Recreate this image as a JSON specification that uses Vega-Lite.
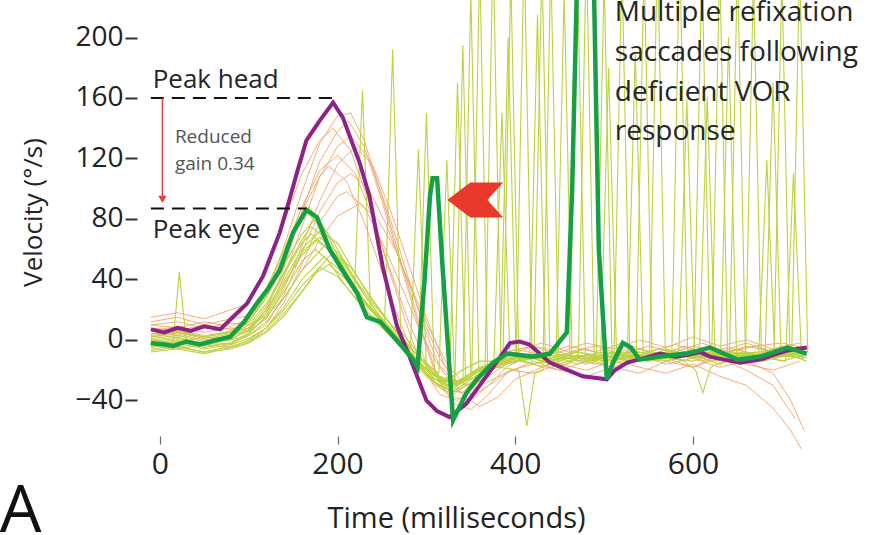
{
  "$schema": "https://vega.github.io/schema/vega-lite/v6.json",
  "autosize": {"type": "none"},
  "width": 695,
  "height": 436,
  "padding": {"left": 150, "top": 0, "right": 32, "bottom": 99},
  "background": "white",
  "config": {"view": {"stroke": null}, "font": "Open Sans"},
  "datasets": {
    "head_traces": [
      {"trace":"h1","t":-10,"v":10},{"trace":"h1","t":20,"v":8},{"trace":"h1","t":50,"v":12},{"trace":"h1","t":80,"v":9},{"trace":"h1","t":100,"v":14},{"trace":"h1","t":120,"v":30},{"trace":"h1","t":140,"v":62},{"trace":"h1","t":160,"v":98},{"trace":"h1","t":180,"v":130},{"trace":"h1","t":200,"v":148},{"trace":"h1","t":215,"v":150},{"trace":"h1","t":230,"v":132},{"trace":"h1","t":250,"v":95},{"trace":"h1","t":270,"v":55},{"trace":"h1","t":290,"v":15},{"trace":"h1","t":310,"v":-20},{"trace":"h1","t":330,"v":-38},{"trace":"h1","t":350,"v":-40},{"trace":"h1","t":370,"v":-30},{"trace":"h1","t":390,"v":-18},{"trace":"h1","t":410,"v":-12},{"trace":"h1","t":440,"v":-8},{"trace":"h1","t":470,"v":-14},{"trace":"h1","t":500,"v":-10},{"trace":"h1","t":530,"v":-6},{"trace":"h1","t":560,"v":-12},{"trace":"h1","t":590,"v":-4},{"trace":"h1","t":620,"v":-10},{"trace":"h1","t":650,"v":-6},{"trace":"h1","t":680,"v":-12},{"trace":"h1","t":710,"v":-8},{"trace":"h1","t":730,"v":-4},
      {"trace":"h2","t":-10,"v":4},{"trace":"h2","t":20,"v":6},{"trace":"h2","t":50,"v":3},{"trace":"h2","t":80,"v":5},{"trace":"h2","t":100,"v":8},{"trace":"h2","t":120,"v":18},{"trace":"h2","t":140,"v":42},{"trace":"h2","t":160,"v":75},{"trace":"h2","t":180,"v":108},{"trace":"h2","t":200,"v":128},{"trace":"h2","t":215,"v":135},{"trace":"h2","t":235,"v":120},{"trace":"h2","t":255,"v":88},{"trace":"h2","t":275,"v":50},{"trace":"h2","t":295,"v":12},{"trace":"h2","t":315,"v":-18},{"trace":"h2","t":335,"v":-34},{"trace":"h2","t":355,"v":-36},{"trace":"h2","t":375,"v":-28},{"trace":"h2","t":395,"v":-20},{"trace":"h2","t":420,"v":-16},{"trace":"h2","t":450,"v":-20},{"trace":"h2","t":480,"v":-14},{"trace":"h2","t":510,"v":-18},{"trace":"h2","t":540,"v":-10},{"trace":"h2","t":570,"v":-16},{"trace":"h2","t":600,"v":-12},{"trace":"h2","t":630,"v":-18},{"trace":"h2","t":660,"v":-14},{"trace":"h2","t":690,"v":-22},{"trace":"h2","t":710,"v":-40},{"trace":"h2","t":725,"v":-60},
      {"trace":"h3","t":-10,"v":12},{"trace":"h3","t":20,"v":15},{"trace":"h3","t":50,"v":10},{"trace":"h3","t":80,"v":14},{"trace":"h3","t":100,"v":16},{"trace":"h3","t":120,"v":30},{"trace":"h3","t":140,"v":58},{"trace":"h3","t":160,"v":88},{"trace":"h3","t":180,"v":112},{"trace":"h3","t":200,"v":122},{"trace":"h3","t":220,"v":110},{"trace":"h3","t":240,"v":80},{"trace":"h3","t":260,"v":45},{"trace":"h3","t":280,"v":12},{"trace":"h3","t":300,"v":-15},{"trace":"h3","t":320,"v":-32},{"trace":"h3","t":340,"v":-35},{"trace":"h3","t":360,"v":-25},{"trace":"h3","t":380,"v":-12},{"trace":"h3","t":400,"v":-6},{"trace":"h3","t":430,"v":-10},{"trace":"h3","t":460,"v":-4},{"trace":"h3","t":490,"v":-8},{"trace":"h3","t":520,"v":-2},{"trace":"h3","t":550,"v":-8},{"trace":"h3","t":580,"v":-3},{"trace":"h3","t":610,"v":-9},{"trace":"h3","t":640,"v":-5},{"trace":"h3","t":670,"v":-10},{"trace":"h3","t":700,"v":-4},{"trace":"h3","t":730,"v":-8},
      {"trace":"h4","t":-10,"v":0},{"trace":"h4","t":20,"v":-2},{"trace":"h4","t":50,"v":2},{"trace":"h4","t":80,"v":0},{"trace":"h4","t":100,"v":3},{"trace":"h4","t":120,"v":10},{"trace":"h4","t":140,"v":30},{"trace":"h4","t":160,"v":58},{"trace":"h4","t":180,"v":85},{"trace":"h4","t":200,"v":104},{"trace":"h4","t":215,"v":110},{"trace":"h4","t":235,"v":100},{"trace":"h4","t":255,"v":76},{"trace":"h4","t":275,"v":45},{"trace":"h4","t":295,"v":15},{"trace":"h4","t":315,"v":-12},{"trace":"h4","t":335,"v":-28},{"trace":"h4","t":355,"v":-32},{"trace":"h4","t":375,"v":-26},{"trace":"h4","t":395,"v":-20},{"trace":"h4","t":420,"v":-22},{"trace":"h4","t":450,"v":-16},{"trace":"h4","t":480,"v":-20},{"trace":"h4","t":510,"v":-14},{"trace":"h4","t":540,"v":-18},{"trace":"h4","t":570,"v":-22},{"trace":"h4","t":600,"v":-16},{"trace":"h4","t":630,"v":-24},{"trace":"h4","t":660,"v":-30},{"trace":"h4","t":690,"v":-45},{"trace":"h4","t":710,"v":-60},{"trace":"h4","t":722,"v":-72},
      {"trace":"h5","t":-10,"v":15},{"trace":"h5","t":20,"v":18},{"trace":"h5","t":50,"v":14},{"trace":"h5","t":80,"v":20},{"trace":"h5","t":100,"v":24},{"trace":"h5","t":120,"v":45},{"trace":"h5","t":140,"v":78},{"trace":"h5","t":160,"v":110},{"trace":"h5","t":180,"v":132},{"trace":"h5","t":195,"v":140},{"trace":"h5","t":215,"v":125},{"trace":"h5","t":235,"v":92},{"trace":"h5","t":255,"v":52},{"trace":"h5","t":275,"v":15},{"trace":"h5","t":295,"v":-18},{"trace":"h5","t":315,"v":-36},{"trace":"h5","t":335,"v":-40},{"trace":"h5","t":355,"v":-30},{"trace":"h5","t":375,"v":-18},{"trace":"h5","t":395,"v":-10},{"trace":"h5","t":420,"v":-4},{"trace":"h5","t":450,"v":-8},{"trace":"h5","t":480,"v":-2},{"trace":"h5","t":510,"v":-6},{"trace":"h5","t":540,"v":0},{"trace":"h5","t":570,"v":-5},{"trace":"h5","t":600,"v":2},{"trace":"h5","t":630,"v":-4},{"trace":"h5","t":660,"v":0},{"trace":"h5","t":690,"v":-6},{"trace":"h5","t":720,"v":-2},
      {"trace":"h6","t":-10,"v":-4},{"trace":"h6","t":20,"v":-6},{"trace":"h6","t":50,"v":-3},{"trace":"h6","t":80,"v":-5},{"trace":"h6","t":100,"v":-2},{"trace":"h6","t":120,"v":8},{"trace":"h6","t":140,"v":25},{"trace":"h6","t":160,"v":50},{"trace":"h6","t":180,"v":78},{"trace":"h6","t":200,"v":95},{"trace":"h6","t":210,"v":98},{"trace":"h6","t":230,"v":88},{"trace":"h6","t":250,"v":65},{"trace":"h6","t":270,"v":38},{"trace":"h6","t":290,"v":10},{"trace":"h6","t":310,"v":-14},{"trace":"h6","t":330,"v":-26},{"trace":"h6","t":350,"v":-30},{"trace":"h6","t":370,"v":-24},{"trace":"h6","t":390,"v":-16},{"trace":"h6","t":420,"v":-12},{"trace":"h6","t":450,"v":-18},{"trace":"h6","t":480,"v":-10},{"trace":"h6","t":510,"v":-14},{"trace":"h6","t":540,"v":-8},{"trace":"h6","t":570,"v":-12},{"trace":"h6","t":600,"v":-18},{"trace":"h6","t":630,"v":-10},{"trace":"h6","t":660,"v":-16},{"trace":"h6","t":690,"v":-20},{"trace":"h6","t":720,"v":-14},
      {"trace":"h7","t":-10,"v":6},{"trace":"h7","t":20,"v":9},{"trace":"h7","t":50,"v":5},{"trace":"h7","t":80,"v":8},{"trace":"h7","t":100,"v":6},{"trace":"h7","t":120,"v":14},{"trace":"h7","t":140,"v":34},{"trace":"h7","t":160,"v":62},{"trace":"h7","t":180,"v":92},{"trace":"h7","t":200,"v":116},{"trace":"h7","t":220,"v":128},{"trace":"h7","t":240,"v":115},{"trace":"h7","t":260,"v":85},{"trace":"h7","t":280,"v":50},{"trace":"h7","t":300,"v":15},{"trace":"h7","t":320,"v":-16},{"trace":"h7","t":340,"v":-36},{"trace":"h7","t":360,"v":-44},{"trace":"h7","t":380,"v":-38},{"trace":"h7","t":400,"v":-26},{"trace":"h7","t":430,"v":-18},{"trace":"h7","t":460,"v":-12},{"trace":"h7","t":490,"v":-16},{"trace":"h7","t":520,"v":-10},{"trace":"h7","t":550,"v":-14},{"trace":"h7","t":580,"v":-8},{"trace":"h7","t":610,"v":-14},{"trace":"h7","t":640,"v":-8},{"trace":"h7","t":670,"v":-4},{"trace":"h7","t":700,"v":-10},{"trace":"h7","t":728,"v":-6},
      {"trace":"h8","t":-10,"v":8},{"trace":"h8","t":20,"v":6},{"trace":"h8","t":50,"v":10},{"trace":"h8","t":80,"v":7},{"trace":"h8","t":100,"v":12},{"trace":"h8","t":120,"v":28},{"trace":"h8","t":140,"v":55},{"trace":"h8","t":160,"v":85},{"trace":"h8","t":180,"v":108},{"trace":"h8","t":190,"v":115},{"trace":"h8","t":210,"v":105},{"trace":"h8","t":230,"v":78},{"trace":"h8","t":250,"v":45},{"trace":"h8","t":270,"v":12},{"trace":"h8","t":290,"v":-15},{"trace":"h8","t":310,"v":-30},{"trace":"h8","t":330,"v":-36},{"trace":"h8","t":350,"v":-28},{"trace":"h8","t":370,"v":-16},{"trace":"h8","t":390,"v":-8},{"trace":"h8","t":420,"v":-4},{"trace":"h8","t":450,"v":-10},{"trace":"h8","t":480,"v":-6},{"trace":"h8","t":510,"v":-12},{"trace":"h8","t":540,"v":-6},{"trace":"h8","t":570,"v":-10},{"trace":"h8","t":600,"v":-4},{"trace":"h8","t":630,"v":-8},{"trace":"h8","t":660,"v":-2},{"trace":"h8","t":690,"v":-8},{"trace":"h8","t":720,"v":-12},
      {"trace":"h9","t":-10,"v":2},{"trace":"h9","t":20,"v":4},{"trace":"h9","t":50,"v":0},{"trace":"h9","t":80,"v":3},{"trace":"h9","t":100,"v":6},{"trace":"h9","t":120,"v":20},{"trace":"h9","t":140,"v":48},{"trace":"h9","t":160,"v":85},{"trace":"h9","t":180,"v":118},{"trace":"h9","t":200,"v":138},{"trace":"h9","t":212,"v":145},{"trace":"h9","t":230,"v":128},{"trace":"h9","t":250,"v":92},{"trace":"h9","t":270,"v":52},{"trace":"h9","t":290,"v":12},{"trace":"h9","t":310,"v":-22},{"trace":"h9","t":330,"v":-42},{"trace":"h9","t":350,"v":-46},{"trace":"h9","t":370,"v":-36},{"trace":"h9","t":390,"v":-22},{"trace":"h9","t":420,"v":-14},{"trace":"h9","t":450,"v":-20},{"trace":"h9","t":480,"v":-24},{"trace":"h9","t":510,"v":-18},{"trace":"h9","t":540,"v":-22},{"trace":"h9","t":570,"v":-14},{"trace":"h9","t":600,"v":-18},{"trace":"h9","t":630,"v":-12},{"trace":"h9","t":660,"v":-20},{"trace":"h9","t":690,"v":-30},{"trace":"h9","t":715,"v":-52},
      {"trace":"h10","t":-10,"v":10},{"trace":"h10","t":20,"v":12},{"trace":"h10","t":50,"v":8},{"trace":"h10","t":80,"v":11},{"trace":"h10","t":100,"v":10},{"trace":"h10","t":120,"v":16},{"trace":"h10","t":140,"v":28},{"trace":"h10","t":160,"v":46},{"trace":"h10","t":180,"v":66},{"trace":"h10","t":200,"v":82},{"trace":"h10","t":225,"v":90},{"trace":"h10","t":245,"v":80},{"trace":"h10","t":265,"v":60},{"trace":"h10","t":285,"v":32},{"trace":"h10","t":305,"v":5},{"trace":"h10","t":325,"v":-18},{"trace":"h10","t":345,"v":-30},{"trace":"h10","t":365,"v":-26},{"trace":"h10","t":385,"v":-14},{"trace":"h10","t":405,"v":-6},{"trace":"h10","t":430,"v":-2},{"trace":"h10","t":460,"v":-8},{"trace":"h10","t":490,"v":-4},{"trace":"h10","t":520,"v":-10},{"trace":"h10","t":550,"v":-4},{"trace":"h10","t":580,"v":-8},{"trace":"h10","t":610,"v":-2},{"trace":"h10","t":640,"v":-8},{"trace":"h10","t":670,"v":-4},{"trace":"h10","t":700,"v":-2},{"trace":"h10","t":730,"v":-6}
    ],
    "eye_traces": [
      {"trace":"e1","t":-10,"v":-5},{"trace":"e1","t":10,"v":-3},{"trace":"e1","t":15,"v":-1},{"trace":"e1","t":22,"v":45},{"trace":"e1","t":30,"v":-2},{"trace":"e1","t":50,"v":-4},{"trace":"e1","t":80,"v":-2},{"trace":"e1","t":100,"v":5},{"trace":"e1","t":120,"v":15},{"trace":"e1","t":140,"v":32},{"trace":"e1","t":160,"v":52},{"trace":"e1","t":175,"v":60},{"trace":"e1","t":190,"v":52},{"trace":"e1","t":210,"v":35},{"trace":"e1","t":230,"v":20},{"trace":"e1","t":250,"v":10},{"trace":"e1","t":270,"v":0},{"trace":"e1","t":290,"v":-15},{"trace":"e1","t":305,"v":-25},{"trace":"e1","t":320,"v":-28},{"trace":"e1","t":340,"v":-20},{"trace":"e1","t":360,"v":-14},{"trace":"e1","t":376,"v":-14},{"trace":"e1","t":385,"v":150},{"trace":"e1","t":394,"v":-12},{"trace":"e1","t":420,"v":-12},{"trace":"e1","t":450,"v":-8},{"trace":"e1","t":480,"v":-14},{"trace":"e1","t":510,"v":-10},{"trace":"e1","t":540,"v":-6},{"trace":"e1","t":570,"v":-12},{"trace":"e1","t":600,"v":-8},{"trace":"e1","t":630,"v":-10},{"trace":"e1","t":660,"v":-4},{"trace":"e1","t":690,"v":-8},{"trace":"e1","t":720,"v":-10},
      {"trace":"e2","t":-10,"v":0},{"trace":"e2","t":20,"v":2},{"trace":"e2","t":50,"v":-3},{"trace":"e2","t":80,"v":3},{"trace":"e2","t":100,"v":10},{"trace":"e2","t":120,"v":24},{"trace":"e2","t":140,"v":45},{"trace":"e2","t":160,"v":66},{"trace":"e2","t":170,"v":75},{"trace":"e2","t":185,"v":68},{"trace":"e2","t":200,"v":50},{"trace":"e2","t":219,"v":32},{"trace":"e2","t":228,"v":165},{"trace":"e2","t":237,"v":22},{"trace":"e2","t":260,"v":6},{"trace":"e2","t":280,"v":-10},{"trace":"e2","t":300,"v":-24},{"trace":"e2","t":320,"v":-32},{"trace":"e2","t":340,"v":-26},{"trace":"e2","t":360,"v":-18},{"trace":"e2","t":390,"v":-12},{"trace":"e2","t":420,"v":-16},{"trace":"e2","t":461,"v":-10},{"trace":"e2","t":470,"v":240},{"trace":"e2","t":479,"v":-12},{"trace":"e2","t":510,"v":-8},{"trace":"e2","t":540,"v":-14},{"trace":"e2","t":570,"v":-6},{"trace":"e2","t":600,"v":-12},{"trace":"e2","t":630,"v":-8},{"trace":"e2","t":660,"v":-14},{"trace":"e2","t":690,"v":-6},{"trace":"e2","t":720,"v":-12},
      {"trace":"e3","t":-10,"v":-8},{"trace":"e3","t":20,"v":-6},{"trace":"e3","t":50,"v":-9},{"trace":"e3","t":80,"v":-5},{"trace":"e3","t":100,"v":0},{"trace":"e3","t":120,"v":8},{"trace":"e3","t":140,"v":22},{"trace":"e3","t":160,"v":40},{"trace":"e3","t":185,"v":55},{"trace":"e3","t":205,"v":45},{"trace":"e3","t":225,"v":28},{"trace":"e3","t":253,"v":12},{"trace":"e3","t":262,"v":192},{"trace":"e3","t":271,"v":6},{"trace":"e3","t":295,"v":-12},{"trace":"e3","t":315,"v":-24},{"trace":"e3","t":335,"v":-28},{"trace":"e3","t":355,"v":-20},{"trace":"e3","t":380,"v":-14},{"trace":"e3","t":410,"v":-10},{"trace":"e3","t":440,"v":-14},{"trace":"e3","t":470,"v":-8},{"trace":"e3","t":511,"v":-12},{"trace":"e3","t":520,"v":250},{"trace":"e3","t":529,"v":-14},{"trace":"e3","t":560,"v":-10},{"trace":"e3","t":590,"v":-14},{"trace":"e3","t":603,"v":-20},{"trace":"e3","t":611,"v":-35},{"trace":"e3","t":620,"v":-18},{"trace":"e3","t":650,"v":-10},{"trace":"e3","t":680,"v":-14},{"trace":"e3","t":710,"v":-8},{"trace":"e3","t":725,"v":-12},
      {"trace":"e4","t":-10,"v":2},{"trace":"e4","t":20,"v":5},{"trace":"e4","t":50,"v":1},{"trace":"e4","t":80,"v":4},{"trace":"e4","t":100,"v":12},{"trace":"e4","t":120,"v":30},{"trace":"e4","t":140,"v":55},{"trace":"e4","t":155,"v":76},{"trace":"e4","t":165,"v":85},{"trace":"e4","t":180,"v":75},{"trace":"e4","t":200,"v":52},{"trace":"e4","t":220,"v":32},{"trace":"e4","t":240,"v":18},{"trace":"e4","t":260,"v":6},{"trace":"e4","t":282,"v":-6},{"trace":"e4","t":291,"v":126},{"trace":"e4","t":300,"v":-18},{"trace":"e4","t":325,"v":-30},{"trace":"e4","t":345,"v":-24},{"trace":"e4","t":370,"v":-16},{"trace":"e4","t":401,"v":-12},{"trace":"e4","t":410,"v":260},{"trace":"e4","t":419,"v":-16},{"trace":"e4","t":450,"v":-10},{"trace":"e4","t":480,"v":-16},{"trace":"e4","t":510,"v":-8},{"trace":"e4","t":540,"v":-12},{"trace":"e4","t":570,"v":-8},{"trace":"e4","t":607,"v":-12},{"trace":"e4","t":616,"v":161},{"trace":"e4","t":625,"v":-14},{"trace":"e4","t":660,"v":-8},{"trace":"e4","t":690,"v":-12},{"trace":"e4","t":720,"v":-6},
      {"trace":"e5","t":-10,"v":-2},{"trace":"e5","t":20,"v":0},{"trace":"e5","t":50,"v":-4},{"trace":"e5","t":80,"v":1},{"trace":"e5","t":100,"v":6},{"trace":"e5","t":120,"v":18},{"trace":"e5","t":140,"v":38},{"trace":"e5","t":160,"v":56},{"trace":"e5","t":180,"v":68},{"trace":"e5","t":200,"v":58},{"trace":"e5","t":220,"v":40},{"trace":"e5","t":240,"v":24},{"trace":"e5","t":260,"v":10},{"trace":"e5","t":280,"v":-4},{"trace":"e5","t":300,"v":-16},{"trace":"e5","t":314,"v":-22},{"trace":"e5","t":323,"v":119},{"trace":"e5","t":332,"v":-30},{"trace":"e5","t":356,"v":-24},{"trace":"e5","t":380,"v":-18},{"trace":"e5","t":404,"v":-20},{"trace":"e5","t":413,"v":-57},{"trace":"e5","t":422,"v":-22},{"trace":"e5","t":431,"v":-20},{"trace":"e5","t":440,"v":250},{"trace":"e5","t":449,"v":-16},{"trace":"e5","t":480,"v":-10},{"trace":"e5","t":510,"v":-14},{"trace":"e5","t":540,"v":-8},{"trace":"e5","t":570,"v":-12},{"trace":"e5","t":600,"v":-6},{"trace":"e5","t":630,"v":-10},{"trace":"e5","t":674,"v":-8},{"trace":"e5","t":683,"v":119},{"trace":"e5","t":692,"v":-10},{"trace":"e5","t":725,"v":-12},
      {"trace":"e6","t":-10,"v":-6},{"trace":"e6","t":20,"v":-4},{"trace":"e6","t":50,"v":-8},{"trace":"e6","t":80,"v":-4},{"trace":"e6","t":100,"v":-1},{"trace":"e6","t":120,"v":6},{"trace":"e6","t":140,"v":18},{"trace":"e6","t":160,"v":32},{"trace":"e6","t":175,"v":44},{"trace":"e6","t":190,"v":50},{"trace":"e6","t":210,"v":40},{"trace":"e6","t":230,"v":24},{"trace":"e6","t":250,"v":12},{"trace":"e6","t":270,"v":0},{"trace":"e6","t":290,"v":-14},{"trace":"e6","t":310,"v":-24},{"trace":"e6","t":332,"v":-28},{"trace":"e6","t":341,"v":195},{"trace":"e6","t":350,"v":-22},{"trace":"e6","t":380,"v":-14},{"trace":"e6","t":410,"v":-10},{"trace":"e6","t":440,"v":-16},{"trace":"e6","t":470,"v":-10},{"trace":"e6","t":500,"v":-14},{"trace":"e6","t":530,"v":-8},{"trace":"e6","t":551,"v":-12},{"trace":"e6","t":560,"v":260},{"trace":"e6","t":569,"v":-14},{"trace":"e6","t":600,"v":-10},{"trace":"e6","t":630,"v":-16},{"trace":"e6","t":660,"v":-10},{"trace":"e6","t":704,"v":-14},{"trace":"e6","t":713,"v":110},{"trace":"e6","t":722,"v":-10},
      {"trace":"e7","t":-10,"v":4},{"trace":"e7","t":20,"v":6},{"trace":"e7","t":50,"v":2},{"trace":"e7","t":80,"v":6},{"trace":"e7","t":100,"v":12},{"trace":"e7","t":120,"v":28},{"trace":"e7","t":140,"v":50},{"trace":"e7","t":160,"v":70},{"trace":"e7","t":175,"v":80},{"trace":"e7","t":190,"v":70},{"trace":"e7","t":210,"v":50},{"trace":"e7","t":230,"v":30},{"trace":"e7","t":250,"v":14},{"trace":"e7","t":270,"v":0},{"trace":"e7","t":290,"v":-14},{"trace":"e7","t":310,"v":-26},{"trace":"e7","t":330,"v":-32},{"trace":"e7","t":351,"v":-24},{"trace":"e7","t":360,"v":250},{"trace":"e7","t":369,"v":-20},{"trace":"e7","t":400,"v":-12},{"trace":"e7","t":430,"v":-18},{"trace":"e7","t":460,"v":-10},{"trace":"e7","t":491,"v":-14},{"trace":"e7","t":500,"v":240},{"trace":"e7","t":509,"v":-16},{"trace":"e7","t":540,"v":-10},{"trace":"e7","t":570,"v":-14},{"trace":"e7","t":600,"v":-8},{"trace":"e7","t":641,"v":-12},{"trace":"e7","t":650,"v":250},{"trace":"e7","t":659,"v":-10},{"trace":"e7","t":690,"v":-6},{"trace":"e7","t":720,"v":-10},
      {"trace":"e8","t":-10,"v":-3},{"trace":"e8","t":20,"v":-1},{"trace":"e8","t":50,"v":-5},{"trace":"e8","t":80,"v":-2},{"trace":"e8","t":100,"v":3},{"trace":"e8","t":120,"v":12},{"trace":"e8","t":140,"v":28},{"trace":"e8","t":160,"v":46},{"trace":"e8","t":185,"v":62},{"trace":"e8","t":205,"v":52},{"trace":"e8","t":225,"v":34},{"trace":"e8","t":245,"v":18},{"trace":"e8","t":265,"v":4},{"trace":"e8","t":285,"v":-10},{"trace":"e8","t":305,"v":-22},{"trace":"e8","t":325,"v":-30},{"trace":"e8","t":345,"v":-26},{"trace":"e8","t":366,"v":-18},{"trace":"e8","t":375,"v":260},{"trace":"e8","t":384,"v":-16},{"trace":"e8","t":420,"v":-12},{"trace":"e8","t":450,"v":-18},{"trace":"e8","t":480,"v":-10},{"trace":"e8","t":510,"v":-14},{"trace":"e8","t":536,"v":-10},{"trace":"e8","t":545,"v":250},{"trace":"e8","t":554,"v":-12},{"trace":"e8","t":590,"v":-8},{"trace":"e8","t":620,"v":-14},{"trace":"e8","t":650,"v":-8},{"trace":"e8","t":691,"v":-12},{"trace":"e8","t":700,"v":240},{"trace":"e8","t":709,"v":-10},{"trace":"e8","t":728,"v":-14},
      {"trace":"e9","t":-10,"v":1},{"trace":"e9","t":20,"v":3},{"trace":"e9","t":50,"v":-1},{"trace":"e9","t":80,"v":2},{"trace":"e9","t":100,"v":8},{"trace":"e9","t":120,"v":22},{"trace":"e9","t":140,"v":44},{"trace":"e9","t":160,"v":64},{"trace":"e9","t":170,"v":70},{"trace":"e9","t":190,"v":60},{"trace":"e9","t":210,"v":42},{"trace":"e9","t":230,"v":26},{"trace":"e9","t":250,"v":12},{"trace":"e9","t":270,"v":-2},{"trace":"e9","t":290,"v":-16},{"trace":"e9","t":310,"v":-28},{"trace":"e9","t":330,"v":-34},{"trace":"e9","t":350,"v":-26},{"trace":"e9","t":370,"v":-18},{"trace":"e9","t":386,"v":-16},{"trace":"e9","t":395,"v":240},{"trace":"e9","t":404,"v":-14},{"trace":"e9","t":440,"v":-10},{"trace":"e9","t":470,"v":-16},{"trace":"e9","t":500,"v":-10},{"trace":"e9","t":530,"v":-14},{"trace":"e9","t":560,"v":-8},{"trace":"e9","t":576,"v":-12},{"trace":"e9","t":585,"v":260},{"trace":"e9","t":594,"v":-12},{"trace":"e9","t":630,"v":-8},{"trace":"e9","t":660,"v":-14},{"trace":"e9","t":690,"v":-10},{"trace":"e9","t":720,"v":-6},
      {"trace":"e10","t":-10,"v":-7},{"trace":"e10","t":20,"v":-5},{"trace":"e10","t":50,"v":-8},{"trace":"e10","t":80,"v":-6},{"trace":"e10","t":100,"v":-2},{"trace":"e10","t":120,"v":5},{"trace":"e10","t":140,"v":16},{"trace":"e10","t":160,"v":32},{"trace":"e10","t":180,"v":48},{"trace":"e10","t":195,"v":58},{"trace":"e10","t":215,"v":48},{"trace":"e10","t":235,"v":30},{"trace":"e10","t":255,"v":14},{"trace":"e10","t":275,"v":0},{"trace":"e10","t":295,"v":-14},{"trace":"e10","t":315,"v":-26},{"trace":"e10","t":335,"v":-30},{"trace":"e10","t":355,"v":-22},{"trace":"e10","t":380,"v":-16},{"trace":"e10","t":421,"v":-12},{"trace":"e10","t":430,"v":250},{"trace":"e10","t":439,"v":-14},{"trace":"e10","t":470,"v":-10},{"trace":"e10","t":500,"v":-16},{"trace":"e10","t":530,"v":-10},{"trace":"e10","t":560,"v":-14},{"trace":"e10","t":584,"v":-8},{"trace":"e10","t":593,"v":159},{"trace":"e10","t":602,"v":-10},{"trace":"e10","t":621,"v":-12},{"trace":"e10","t":630,"v":250},{"trace":"e10","t":639,"v":-12},{"trace":"e10","t":670,"v":-8},{"trace":"e10","t":700,"v":-14},{"trace":"e10","t":725,"v":-10},
      {"trace":"e11","t":-10,"v":3},{"trace":"e11","t":20,"v":5},{"trace":"e11","t":50,"v":2},{"trace":"e11","t":80,"v":5},{"trace":"e11","t":100,"v":14},{"trace":"e11","t":120,"v":34},{"trace":"e11","t":140,"v":60},{"trace":"e11","t":155,"v":80},{"trace":"e11","t":168,"v":88},{"trace":"e11","t":185,"v":74},{"trace":"e11","t":205,"v":50},{"trace":"e11","t":225,"v":30},{"trace":"e11","t":245,"v":16},{"trace":"e11","t":265,"v":2},{"trace":"e11","t":285,"v":-12},{"trace":"e11","t":305,"v":-26},{"trace":"e11","t":325,"v":-36},{"trace":"e11","t":345,"v":-30},{"trace":"e11","t":370,"v":-20},{"trace":"e11","t":400,"v":-14},{"trace":"e11","t":446,"v":-10},{"trace":"e11","t":455,"v":230},{"trace":"e11","t":464,"v":-12},{"trace":"e11","t":500,"v":-8},{"trace":"e11","t":530,"v":-12},{"trace":"e11","t":560,"v":-6},{"trace":"e11","t":601,"v":-10},{"trace":"e11","t":610,"v":250},{"trace":"e11","t":619,"v":-8},{"trace":"e11","t":659,"v":-12},{"trace":"e11","t":668,"v":240},{"trace":"e11","t":677,"v":-10},{"trace":"e11","t":710,"v":-8},{"trace":"e11","t":728,"v":-12},
      {"trace":"e12","t":-10,"v":-4},{"trace":"e12","t":20,"v":-2},{"trace":"e12","t":50,"v":-6},{"trace":"e12","t":80,"v":-3},{"trace":"e12","t":100,"v":1},{"trace":"e12","t":120,"v":8},{"trace":"e12","t":140,"v":20},{"trace":"e12","t":160,"v":36},{"trace":"e12","t":180,"v":48},{"trace":"e12","t":200,"v":42},{"trace":"e12","t":220,"v":28},{"trace":"e12","t":240,"v":14},{"trace":"e12","t":260,"v":2},{"trace":"e12","t":280,"v":-10},{"trace":"e12","t":300,"v":-22},{"trace":"e12","t":320,"v":-30},{"trace":"e12","t":341,"v":-28},{"trace":"e12","t":350,"v":230},{"trace":"e12","t":359,"v":-20},{"trace":"e12","t":390,"v":-14},{"trace":"e12","t":420,"v":-10},{"trace":"e12","t":450,"v":-16},{"trace":"e12","t":471,"v":-12},{"trace":"e12","t":480,"v":260},{"trace":"e12","t":489,"v":-14},{"trace":"e12","t":520,"v":-8},{"trace":"e12","t":550,"v":-12},{"trace":"e12","t":580,"v":-6},{"trace":"e12","t":610,"v":-12},{"trace":"e12","t":640,"v":-8},{"trace":"e12","t":670,"v":-14},{"trace":"e12","t":711,"v":-10},{"trace":"e12","t":720,"v":250},{"trace":"e12","t":729,"v":-8},
      {"trace":"e13","t":-10,"v":-1},{"trace":"e13","t":20,"v":1},{"trace":"e13","t":50,"v":-2},{"trace":"e13","t":80,"v":0},{"trace":"e13","t":100,"v":7},{"trace":"e13","t":120,"v":20},{"trace":"e13","t":140,"v":40},{"trace":"e13","t":160,"v":60},{"trace":"e13","t":180,"v":72},{"trace":"e13","t":200,"v":64},{"trace":"e13","t":220,"v":44},{"trace":"e13","t":240,"v":26},{"trace":"e13","t":260,"v":10},{"trace":"e13","t":280,"v":-6},{"trace":"e13","t":291,"v":-14},{"trace":"e13","t":300,"v":150},{"trace":"e13","t":309,"v":-22},{"trace":"e13","t":330,"v":-30},{"trace":"e13","t":355,"v":-22},{"trace":"e13","t":383,"v":-14},{"trace":"e13","t":392,"v":200},{"trace":"e13","t":401,"v":-12},{"trace":"e13","t":440,"v":-12},{"trace":"e13","t":470,"v":-8},{"trace":"e13","t":496,"v":-12},{"trace":"e13","t":505,"v":180},{"trace":"e13","t":514,"v":-10},{"trace":"e13","t":550,"v":-14},{"trace":"e13","t":590,"v":-8},{"trace":"e13","t":631,"v":-12},{"trace":"e13","t":640,"v":200},{"trace":"e13","t":649,"v":-10},{"trace":"e13","t":690,"v":-12},{"trace":"e13","t":725,"v":-8},
      {"trace":"e14","t":-10,"v":-3},{"trace":"e14","t":20,"v":-5},{"trace":"e14","t":50,"v":-1},{"trace":"e14","t":80,"v":-3},{"trace":"e14","t":100,"v":4},{"trace":"e14","t":120,"v":16},{"trace":"e14","t":140,"v":36},{"trace":"e14","t":160,"v":58},{"trace":"e14","t":175,"v":66},{"trace":"e14","t":195,"v":58},{"trace":"e14","t":215,"v":40},{"trace":"e14","t":235,"v":22},{"trace":"e14","t":255,"v":8},{"trace":"e14","t":275,"v":-4},{"trace":"e14","t":295,"v":-18},{"trace":"e14","t":315,"v":-26},{"trace":"e14","t":326,"v":-28},{"trace":"e14","t":335,"v":170},{"trace":"e14","t":344,"v":-24},{"trace":"e14","t":380,"v":-16},{"trace":"e14","t":416,"v":-12},{"trace":"e14","t":425,"v":215},{"trace":"e14","t":434,"v":-14},{"trace":"e14","t":480,"v":-10},{"trace":"e14","t":526,"v":-12},{"trace":"e14","t":535,"v":190},{"trace":"e14","t":544,"v":-10},{"trace":"e14","t":600,"v":-14},{"trace":"e14","t":640,"v":-8},{"trace":"e14","t":681,"v":-12},{"trace":"e14","t":690,"v":170},{"trace":"e14","t":699,"v":-10},{"trace":"e14","t":728,"v":-10}
    ],
    "head": [
      {"t":-10,"v":7},{"t":5,"v":5},{"t":20,"v":8},{"t":35,"v":6},{"t":50,"v":9},{"t":68,"v":7},{"t":82,"v":15},{"t":98,"v":24},{"t":116,"v":42},{"t":135,"v":71},{"t":146,"v":93},{"t":155,"v":112},{"t":165,"v":132},{"t":180,"v":145},{"t":195,"v":157},{"t":206,"v":147},{"t":225,"v":117},{"t":236,"v":95},{"t":251,"v":48},{"t":267,"v":9},{"t":281,"v":-11},{"t":300,"v":-40},{"t":312,"v":-47},{"t":326,"v":-51},{"t":345,"v":-42},{"t":360,"v":-30},{"t":375,"v":-18},{"t":394,"v":-2},{"t":405,"v":-1},{"t":416,"v":-3},{"t":439,"v":-15},{"t":455,"v":-19},{"t":476,"v":-24},{"t":503,"v":-26},{"t":512,"v":-20},{"t":526,"v":-15},{"t":545,"v":-12},{"t":563,"v":-9},{"t":580,"v":-11},{"t":593,"v":-10},{"t":608,"v":-8},{"t":619,"v":-11},{"t":635,"v":-13},{"t":653,"v":-15},{"t":676,"v":-13},{"t":690,"v":-10},{"t":706,"v":-7},{"t":728,"v":-5}
    ],
    "eye": [
      {"t":-10,"v":-2},{"t":5,"v":-3},{"t":15,"v":-4},{"t":30,"v":-1},{"t":45,"v":-3},{"t":64,"v":0},{"t":79,"v":2},{"t":95,"v":12},{"t":109,"v":24},{"t":122,"v":34},{"t":135,"v":46},{"t":150,"v":71},{"t":165,"v":86},{"t":177,"v":81},{"t":191,"v":60},{"t":210,"v":42},{"t":222,"v":31},{"t":233,"v":15},{"t":248,"v":12},{"t":259,"v":5},{"t":275,"v":-6},{"t":285,"v":-13},{"t":290,"v":-18},{"t":298,"v":40},{"t":304,"v":95},{"t":307,"v":107},{"t":312,"v":107},{"t":318,"v":50},{"t":330,"v":-53},{"t":345,"v":-35},{"t":357,"v":-26},{"t":375,"v":-15},{"t":391,"v":-9},{"t":420,"v":-11},{"t":439,"v":-9},{"t":458,"v":5},{"t":464,"v":100},{"t":470,"v":250},{"t":488,"v":250},{"t":494,"v":60},{"t":503,"v":-26},{"t":510,"v":-15},{"t":521,"v":-2},{"t":530,"v":-5},{"t":540,"v":-13},{"t":563,"v":-11},{"t":593,"v":-9},{"t":619,"v":-5},{"t":650,"v":-13},{"t":676,"v":-11},{"t":706,"v":-5},{"t":728,"v":-9}
    ],
    "dashes": [
      {"t":-10,"t2":199,"v":160},
      {"t":-10,"t2":165,"v":87}
    ],
    "labels": [
      {"t":-8,"v":166.5,"text":"Peak head"},
      {"t":-8,"v":67.5,"text":"Peak eye"}
    ],
    "note_lines": [
      {"t":512,"v":211,"text":"Multiple refixation"},
      {"t":512,"v":184.5,"text":"saccades following"},
      {"t":512,"v":158,"text":"deficient VOR"},
      {"t":512,"v":132,"text":"response"}
    ],
    "small_labels": [
      {"t":17,"v":130,"text":"Reduced"},
      {"t":17,"v":112.4,"text":"gain 0.34"}
    ],
    "panel": [
      {"t":-180,"v":-127,"text":"A"}
    ],
    "gain_arrow": [
      {"t":3,"v":160,"v2":93}
    ],
    "marker": [
      {"t":355,"v":92.6}
    ]
  },
  "layer": [
    {
      "data": {"name": "head_traces"},
      "mark": {"type": "line", "color": "#f3a46e", "strokeWidth": 1, "opacity": 0.9},
      "encoding": {
        "x": {"field": "t", "type": "quantitative", "scale": {"domain": [-11, 771], "nice": false, "zero": false},
          "axis": {"values": [0, 200, 400, 600], "domain": false, "grid": false, "tickSize": 8, "tickWidth": 1.2, "tickColor": "#666",
            "labelFont": "Open Sans", "labelFontSize": 30, "labelColor": "#222", "labelPadding": 5,
            "title": "Time (milliseconds)", "titleFont": "Open Sans", "titleFontSize": 29, "titleFontWeight": "normal", "titleColor": "#222",
            "titleX": 306, "titleY": 91, "titleBaseline": "alphabetic", "titleAlign": "center"}},
        "y": {"field": "v", "type": "quantitative", "scale": {"domain": [-63.5, 224.8], "nice": false, "zero": false},
          "axis": {"values": [-40, 0, 40, 80, 120, 160, 200], "domain": false, "grid": false, "offset": 13, "tickSize": 12, "tickWidth": 2, "tickColor": "#333",
            "labelFont": "Open Sans", "labelFontSize": 28, "labelColor": "#222", "labelPadding": 2, "labelBaseline": "middle",
            "title": "Velocity (°/s)", "titleFont": "Open Sans", "titleFontSize": 26, "titleFontWeight": "normal", "titleColor": "#222",
            "titleX": -104, "titleY": 212, "titleAngle": -90, "titleAlign": "center", "titleBaseline": "middle"}},
        "detail": {"field": "trace", "type": "nominal"}
      }
    },
    {
      "data": {"name": "eye_traces"},
      "mark": {"type": "line", "color": "#bcd240", "strokeWidth": 1.1},
      "encoding": {
        "x": {"field": "t", "type": "quantitative"},
        "y": {"field": "v", "type": "quantitative"},
        "detail": {"field": "trace", "type": "nominal"}
      }
    },
    {
      "data": {"name": "head"},
      "mark": {"type": "line", "color": "#8c2385", "strokeWidth": 4},
      "encoding": {
        "x": {"field": "t", "type": "quantitative"},
        "y": {"field": "v", "type": "quantitative"}
      }
    },
    {
      "data": {"name": "eye"},
      "mark": {"type": "line", "color": "#16a046", "strokeWidth": 4.5},
      "encoding": {
        "x": {"field": "t", "type": "quantitative"},
        "y": {"field": "v", "type": "quantitative"}
      }
    },
    {
      "data": {"name": "dashes"},
      "mark": {"type": "rule", "color": "#111", "strokeWidth": 2, "strokeDash": [13, 8]},
      "encoding": {
        "x": {"field": "t", "type": "quantitative"},
        "x2": {"field": "t2"},
        "y": {"field": "v", "type": "quantitative"}
      }
    },
    {
      "data": {"name": "gain_arrow"},
      "mark": {"type": "rule", "color": "#e0443a", "strokeWidth": 1.5},
      "encoding": {
        "x": {"field": "t", "type": "quantitative"},
        "y": {"field": "v", "type": "quantitative"},
        "y2": {"field": "v2"}
      }
    },
    {
      "data": {"name": "gain_arrow"},
      "mark": {"type": "point", "shape": "triangle-down", "filled": true, "color": "#e0443a", "size": 70, "opacity": 1},
      "encoding": {
        "x": {"field": "t", "type": "quantitative"},
        "y": {"field": "v2", "type": "quantitative"}
      }
    },
    {
      "data": {"name": "marker"},
      "mark": {"type": "point", "shape": "M -1 0 L -0.18 -0.625 L 1 -0.625 L 0.43 0 L 1 0.625 L -0.18 0.625 Z", "filled": true, "color": "#e8392b", "size": 3136, "opacity": 1},
      "encoding": {
        "x": {"field": "t", "type": "quantitative"},
        "y": {"field": "v", "type": "quantitative"}
      }
    },
    {
      "data": {"name": "labels"},
      "mark": {"type": "text", "align": "left", "baseline": "alphabetic", "font": "Open Sans", "fontSize": 26, "color": "#262626"},
      "encoding": {
        "x": {"field": "t", "type": "quantitative"},
        "y": {"field": "v", "type": "quantitative"},
        "text": {"field": "text"}
      }
    },
    {
      "data": {"name": "note_lines"},
      "mark": {"type": "text", "align": "left", "baseline": "alphabetic", "font": "Open Sans", "fontSize": 28, "color": "#262626"},
      "encoding": {
        "x": {"field": "t", "type": "quantitative"},
        "y": {"field": "v", "type": "quantitative"},
        "text": {"field": "text"}
      }
    },
    {
      "data": {"name": "small_labels"},
      "mark": {"type": "text", "align": "left", "baseline": "alphabetic", "font": "Open Sans", "fontSize": 19, "color": "#555"},
      "encoding": {
        "x": {"field": "t", "type": "quantitative"},
        "y": {"field": "v", "type": "quantitative"},
        "text": {"field": "text"}
      }
    },
    {
      "data": {"name": "panel"},
      "mark": {"type": "text", "align": "left", "baseline": "alphabetic", "font": "Open Sans", "fontSize": 66, "color": "#111"},
      "encoding": {
        "x": {"field": "t", "type": "quantitative"},
        "y": {"field": "v", "type": "quantitative"},
        "text": {"field": "text"}
      }
    }
  ]
}
